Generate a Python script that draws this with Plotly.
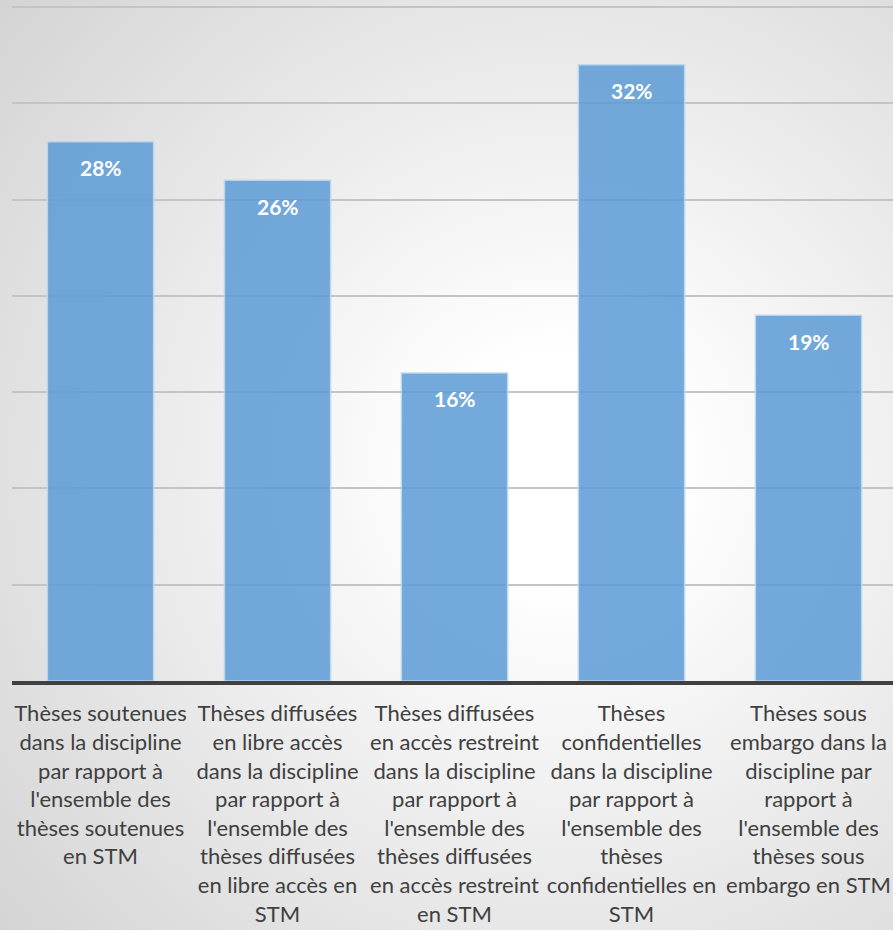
import base64
import plotly.graph_objects as go

categories = [
    "Thèses soutenues<br>dans la discipline<br>par rapport à<br>l'ensemble des<br>thèses soutenues<br>en STM",
    "Thèses diffusées<br>en libre accès<br>dans la discipline<br>par rapport à<br>l'ensemble des<br>thèses diffusées<br>en libre accès en<br>STM",
    "Thèses diffusées<br>en accès restreint<br>dans la discipline<br>par rapport à<br>l'ensemble des<br>thèses diffusées<br>en accès restreint<br>en STM",
    "Thèses<br>confidentielles<br>dans la discipline<br>par rapport à<br>l'ensemble des<br>thèses<br>confidentielles en<br>STM",
    "Thèses sous<br>embargo dans la<br>discipline par<br>rapport à<br>l'ensemble des<br>thèses sous<br>embargo en STM",
]
values = [28, 26, 16, 32, 19]
value_labels = ["28%", "26%", "16%", "32%", "19%"]

W, H = 893, 931
ML, MR, MT, MB = 12, 0, 2, 249.5

svg = (
    f'<svg xmlns="http://www.w3.org/2000/svg" width="{W}" height="{H}">'
    '<defs><radialGradient id="g" gradientUnits="userSpaceOnUse" cx="560" cy="470" r="760">'
    '<stop offset="0" stop-color="#ffffff"/><stop offset="0.15" stop-color="#ffffff"/>'
    '<stop offset="1" stop-color="#d2d2d2"/></radialGradient></defs>'
    f'<rect width="{W}" height="{H}" fill="url(#g)"/></svg>'
)
src = "data:image/svg+xml;base64," + base64.b64encode(svg.encode()).decode()

pw = W - ML - MR
ph = H - MT - MB

fig = go.Figure()
fig.add_trace(go.Bar(
    x=categories, y=values,
    marker=dict(color="rgba(91,155,213,0.85)",
                line=dict(color="rgba(189,215,238,0.9)", width=1.5)),
    width=0.6,
    hoverinfo="skip",
))

for c, v, t in zip(categories, values, value_labels):
    fig.add_annotation(x=c, y=v, text=t, showarrow=False, yanchor="middle",
                       yshift=-26, font=dict(family="Lato", size=21, color="white", weight="bold"))

fig.update_layout(
    width=W, height=H,
    margin=dict(l=ML, r=MR, t=MT, b=MB, pad=0),
    paper_bgcolor="rgba(0,0,0,0)", plot_bgcolor="rgba(0,0,0,0)",
    showlegend=False,
    images=[dict(source=src, xref="paper", yref="paper",
                 x=-ML / pw, y=1 + MT / ph, sizex=W / pw, sizey=H / ph,
                 xanchor="left", yanchor="top", sizing="stretch", layer="below")],
    font=dict(family="Lato", color="#404040"),
)
fig.update_xaxes(
    range=[-0.5, 4.5 - 4 / 177], showgrid=False,
    showline=True, linecolor="#404040", linewidth=4,
    tickangle=0, ticks="", ticklabelstandoff=10, ticklabeloverflow="allow",
    tickfont=dict(family="Lato", size=22, color="#404040"),
)
fig.update_yaxes(
    range=[0, ph / 19.27], dtick=5, tick0=0, showticklabels=False,
    showgrid=True, gridcolor="#c4c4c4", gridwidth=2, zeroline=False,
)

fig.write_html(
    "out.html",
    config={"displayModeBar": False},
    post_script="document.body.style.margin='0px';document.body.style.overflow='hidden';",
)
